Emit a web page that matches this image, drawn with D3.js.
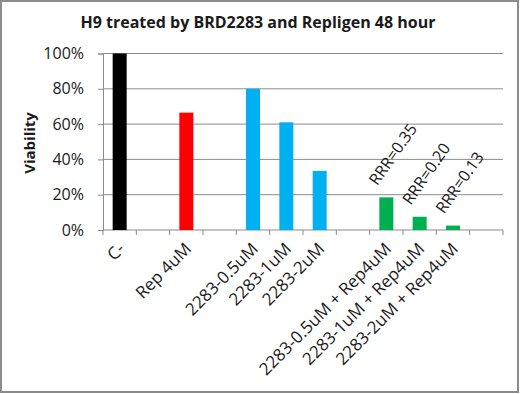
<!DOCTYPE html>
<html>
<head>
<meta charset="utf-8">
<script src="https://cdn.jsdelivr.net/npm/d3@7"></script>
<style>
  body { margin: 0; background: #fff; }
  text { font-family: "Open Sans", sans-serif; fill: #1a1a1a; }
</style>
</head>
<body>
<div id="chart"></div>
<script>
// Chart data (blank entries are empty slots on the x axis)
const categories = ["C-", "", "Rep 4uM", "", "2283-0.5uM", "2283-1uM", "2283-2uM", "",
    "2283-0.5uM + Rep4uM", "2283-1uM + Rep4uM", "2283-2uM + Rep4uM", ""];
const viability = [1.00, null, 0.665, null, 0.80, 0.61, 0.335, null, 0.185, 0.075, 0.025, null];
const barColors = ["#000000", null, "#ff0000", null, "#00b0f0", "#00b0f0", "#00b0f0", null,
    "#00b050", "#00b050", "#00b050", null];
const rrrLabels = [null, null, null, null, null, null, null, null, "RRR=0.35", "RRR=0.20", "RRR=0.13", null];
const yTicks = [0, 0.2, 0.4, 0.6, 0.8, 1.0];

const W = 520, H = 394;
const plot = {left: 103, right: 503, top: 53.5, bottom: 230};

const svg = d3.select("#chart").append("svg")
    .attr("width", W)
    .attr("height", H);

// outer frame
svg.append("rect")
    .attr("x", 1).attr("y", 1)
    .attr("width", W - 3).attr("height", H - 3)
    .attr("fill", "#fff")
    .attr("stroke", "#8c8c8c")
    .attr("stroke-width", 2);

const x = d3.scaleBand()
    .domain(d3.range(categories.length))
    .range([plot.left, plot.right])
    .padding(0);

const y = d3.scaleLinear()
    .domain([0, 1])
    .range([plot.bottom, plot.top]);

// gridlines
svg.append("g")
    .selectAll("line")
    .data(yTicks.slice(1))
    .join("line")
    .attr("x1", plot.left).attr("x2", plot.right)
    .attr("y1", d => y(d)).attr("y2", d => y(d))
    .attr("stroke", "#8c8c8c")
    .attr("stroke-width", 1);

// Y axis
const yAxis = svg.append("g")
    .attr("transform", "translate(" + plot.left + ",0)")
    .call(d3.axisLeft(y).tickValues(yTicks).tickFormat(d3.format(".0%")).tickSize(5).tickPadding(14));
yAxis.select(".domain").attr("stroke", "#8c8c8c");
yAxis.selectAll(".tick line").attr("stroke", "#8c8c8c");
yAxis.selectAll(".tick text")
    .style("font-size", "16px")
    .style("font-family", "Open Sans, sans-serif")
    .attr("fill", "#1a1a1a");

// X axis: ticks between categories
const bounds = d3.range(categories.length + 1).map(i => plot.left + i * x.bandwidth());
svg.append("line")
    .attr("x1", plot.left).attr("x2", plot.right)
    .attr("y1", plot.bottom).attr("y2", plot.bottom)
    .attr("stroke", "#8c8c8c");
svg.append("g")
    .selectAll("line")
    .data(bounds)
    .join("line")
    .attr("x1", d => d).attr("x2", d => d)
    .attr("y1", plot.bottom).attr("y2", plot.bottom + 5)
    .attr("stroke", "#8c8c8c");

// bars
const barW = x.bandwidth() * 0.42;
svg.append("g")
    .selectAll("rect")
    .data(viability.map((v, i) => ({v, i})).filter(d => d.v != null))
    .join("rect")
    .attr("x", d => x(d.i) + (x.bandwidth() - barW) / 2)
    .attr("y", d => y(d.v))
    .attr("width", barW)
    .attr("height", d => y(0) - y(d.v))
    .attr("fill", d => barColors[d.i]);

// category labels, rotated
svg.append("g")
    .selectAll("text")
    .data(categories.map((c, i) => ({c, i})).filter(d => d.c))
    .join("text")
    .attr("transform", d => "translate(" + (x(d.i) + x.bandwidth() / 2 + 6) + "," + (plot.bottom + 20) + ") rotate(-45)")
    .attr("text-anchor", "end")
    .style("font-size", "17px")
    .text(d => d.c);

// RRR annotations above green bars
svg.append("g")
    .selectAll("text")
    .data(rrrLabels.map((r, i) => ({r, i})).filter(d => d.r))
    .join("text")
    .attr("transform", d => "translate(" + (x(d.i) + x.bandwidth() / 2 - 9) + "," + (y(viability[d.i]) - 11) + ") rotate(-55)")
    .attr("text-anchor", "start")
    .style("font-size", "16px")
    .text(d => d.r);

// title
svg.append("text")
    .attr("x", 258).attr("y", 28)
    .attr("text-anchor", "middle")
    .style("font-size", "16px")
    .style("font-weight", "bold")
    .text("H9 treated by BRD2283 and Repligen 48 hour");

// y label
svg.append("text")
    .attr("transform", "translate(35,143) rotate(-90)")
    .attr("text-anchor", "middle")
    .style("font-size", "15px")
    .style("font-weight", "bold")
    .text("Viability");
</script>
</body>
</html>
